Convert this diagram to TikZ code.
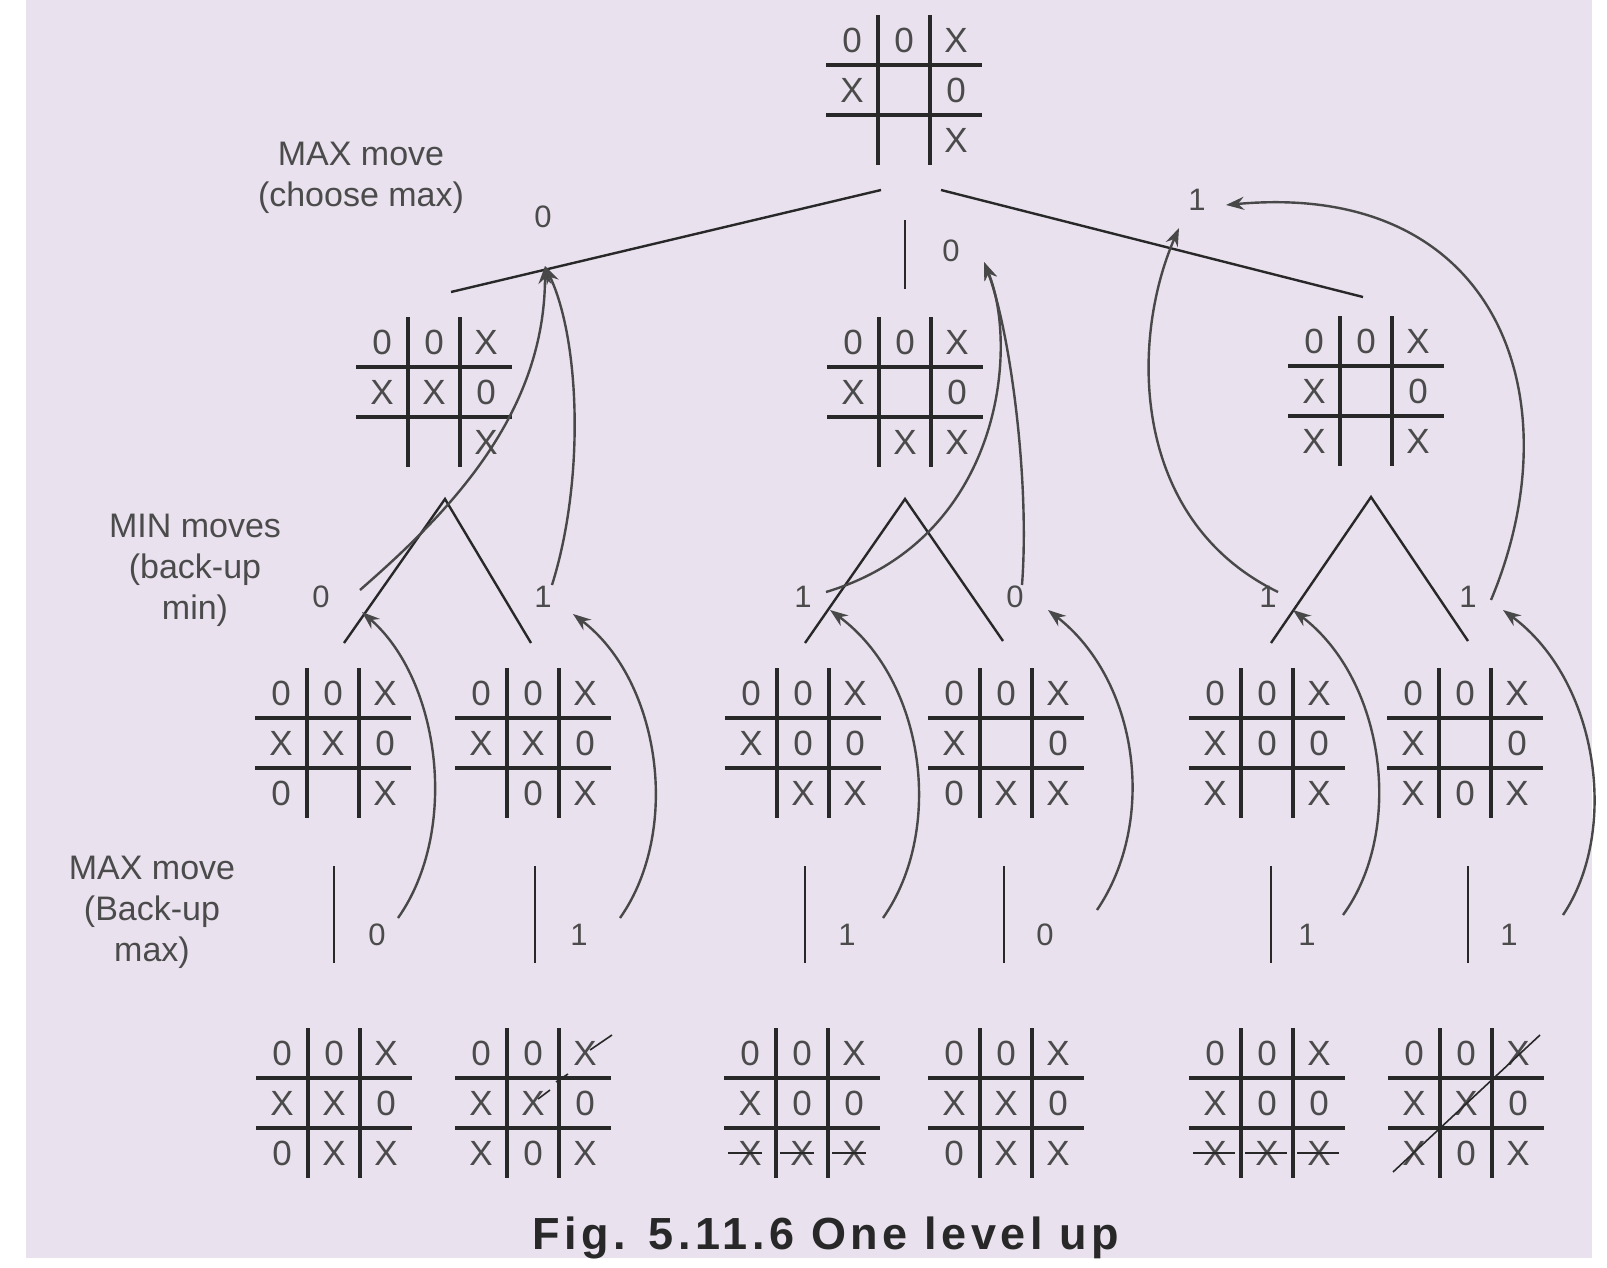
\documentclass[tikz,border=0pt]{standalone}
\usepackage{fontspec}
\setmainfont{Liberation Sans}
\usetikzlibrary{arrows.meta}
\definecolor{bgpaper}{RGB}{233,225,238}
\definecolor{ink}{RGB}{40,40,40}
\definecolor{symcol}{RGB}{75,75,75}
\def\emptycell{n}
\tikzset{
  gridline/.style={draw=ink, line width=3.2pt},
  cellsym/.style={text=symcol, font=\fontsize{35}{40}\selectfont, inner sep=0pt},
  treeline/.style={draw=ink, line width=2.4pt},
  backarrow/.style={draw=ink!85, line width=2.4pt, -{Stealth[length=18pt,width=13pt]}},
  val/.style={text=symcol, font=\fontsize{31}{34}\selectfont, inner sep=1pt},
  lbl/.style={text=symcol, align=center, font=\fontsize{34}{41}\selectfont},
  captionstyle/.style={text=ink, font=\bfseries\fontsize{45}{50}\selectfont\addfontfeature{LetterSpace=10}},
  strike/.style={draw=ink, line width=1.6pt},
}
\newcommand\tttboard[3]{%
  \coordinate (#1) at (#2);
  \begin{scope}[shift={(#2)}]
    \draw[gridline] (-26,-75) -- (-26,75) (26,-75) -- (26,75) (-78,-25) -- (78,-25) (-78,25) -- (78,25);
    \foreach \s [count=\i from 0] in {#3} {
      \pgfmathtruncatemacro\col{mod(\i,3)-1}
      \pgfmathtruncatemacro\row{int(\i/3)-1}
      \node[cellsym] (#1-\i) at (\col*52,\row*50) {\ifx\s\emptycell\else\s\fi};
    }
  \end{scope}}
\begin{document}
\begin{tikzpicture}[x=1pt,y=-1pt]
\useasboundingbox (0,0) rectangle (1607,1268);
\fill[white] (0,0) rectangle (1607,1268);
\fill[bgpaper] (26,0) rectangle (1592,1258);

% boards
\tttboard{b0}{904,90}{0,0,X,X,n,0,n,n,X}
\tttboard{b1a}{434,392}{0,0,X,X,X,0,n,n,X}
\tttboard{b1b}{905,392}{0,0,X,X,n,0,n,X,X}
\tttboard{b1c}{1366,391}{0,0,X,X,n,0,X,n,X}
\tttboard{b2a}{333,743}{0,0,X,X,X,0,0,n,X}
\tttboard{b2b}{533,743}{0,0,X,X,X,0,n,0,X}
\tttboard{b2c}{803,743}{0,0,X,X,0,0,n,X,X}
\tttboard{b2d}{1006,743}{0,0,X,X,n,0,0,X,X}
\tttboard{b2e}{1267,743}{0,0,X,X,0,0,X,n,X}
\tttboard{b2f}{1465,743}{0,0,X,X,n,0,X,0,X}
\tttboard{b3a}{334,1103}{0,0,X,X,X,0,0,X,X}
\tttboard{b3b}{533,1103}{0,0,X,X,X,0,X,0,X}
\tttboard{b3c}{802,1103}{0,0,X,X,0,0,X,X,X}
\tttboard{b3d}{1006,1103}{0,0,X,X,X,0,0,X,X}
\tttboard{b3e}{1267,1103}{0,0,X,X,0,0,X,X,X}
\tttboard{b3f}{1466,1103}{0,0,X,X,X,0,X,0,X}

% win strikes
\foreach \c in {750,802,854} \draw[strike] (\c-22,1153) -- (\c+12,1153);
\foreach \c in {1215,1267,1319} \draw[strike] (\c-22,1153) -- (\c+20,1153);
\draw[strike] (1393,1172) -- (1540,1035);
\draw[strike] (590,1050) -- (612,1035);
\draw[strike] (556,1082) -- (568,1074);
\draw[strike] (538,1099) -- (550,1090);

% labels
\node[lbl] (labTop) at (361,178) {MAX move\\(choose max)};
\node[lbl] (labMin) at (195,570) {MIN moves\\(back-up\\min)};
\node[lbl] (labMax) at (152,912) {MAX move\\(Back-up\\max)};
\node[captionstyle] (cap) at (826,1238) {Fig. 5.11.6 One level up};

% values
\node[val] (v1a) at (543,217) {0};
\node[val] (v1b) at (951,251) {0};
\node[val] (v1c) at (1197,200) {1};
\node[val] (v2a) at (321,597) {0};
\node[val] (v2b) at (543,597) {1};
\node[val] (v2c) at (803,597) {1};
\node[val] (v2d) at (1015,597) {0};
\node[val] (v2e) at (1268,597) {1};
\node[val] (v2f) at (1468,597) {1};
\node[val] (v3a) at (377,935) {0};
\node[val] (v3b) at (579,935) {1};
\node[val] (v3c) at (847,935) {1};
\node[val] (v3d) at (1045,935) {0};
\node[val] (v3e) at (1307,935) {1};
\node[val] (v3f) at (1509,935) {1};

% tree line end points
\coordinate (r0L) at (881,190);  \coordinate (r1a) at (451,292);
\coordinate (r0M) at (905,220);  \coordinate (r1b) at (905,289);
\coordinate (r0R) at (941,190);  \coordinate (r1c) at (1363,297);
\coordinate (apA) at (445,499); \coordinate (fA1) at (344,643); \coordinate (fA2) at (531,643);
\coordinate (apB) at (905,499); \coordinate (fB1) at (805,643); \coordinate (fB2) at (1003,641);
\coordinate (apC) at (1371,497); \coordinate (fC1) at (1271,643); \coordinate (fC2) at (1468,641);

\draw[treeline] (r0L) -- (r1a);
\draw[treeline] (r0M) -- (r1b);
\draw[treeline] (r0R) -- (r1c);
\draw[treeline] (fA1) -- (apA) -- (fA2);
\draw[treeline] (fB1) -- (apB) -- (fB2);
\draw[treeline] (fC1) -- (apC) -- (fC2);
\foreach \x/\n in {334/a,535/b,805/c,1004/d,1271/e,1468/f}{
  \coordinate (s2\n) at (\x,866); \coordinate (s3\n) at (\x,963);
  \draw[treeline] (s2\n) -- (s3\n);
}

% back-up arrows: level 3 -> level 2
\coordinate (u3a) at (398,918); \coordinate (t2a) at (362,612);
\coordinate (u3b) at (620,918); \coordinate (t2b) at (573,614);
\coordinate (u3c) at (883,918); \coordinate (t2c) at (830,610);
\coordinate (u3d) at (1097,910); \coordinate (t2d) at (1048,610);
\coordinate (u3e) at (1343,915); \coordinate (t2e) at (1293,610);
\coordinate (u3f) at (1563,915); \coordinate (t2f) at (1503,610);
\draw[backarrow] (u3a) .. controls (460,830) and (440,680) .. (t2a);
\draw[backarrow] (u3b) .. controls (682,830) and (660,680) .. (t2b);
\draw[backarrow] (u3c) .. controls (945,830) and (925,680) .. (t2c);
\draw[backarrow] (u3d) .. controls (1158,820) and (1138,680) .. (t2d);
\draw[backarrow] (u3e) .. controls (1405,830) and (1385,680) .. (t2e);
\draw[backarrow] (u3f) .. controls (1620,830) and (1598,680) .. (t2f);

% back-up arrows: level 2 -> level 1
\coordinate (u2a) at (360,590); \coordinate (u2b) at (552,585);
\coordinate (u2c) at (826,592); \coordinate (u2d) at (1022,585);
\coordinate (u2e) at (1278,592); \coordinate (u2f) at (1491,600);
\coordinate (t1a) at (545,266); \coordinate (t1b) at (984,262);
\coordinate (t1c) at (1179,228); \coordinate (t1d) at (1226,205);
\draw[backarrow] (u2a) .. controls (440,520) and (545,420) .. (t1a);
\draw[backarrow] (u2b) .. controls (585,480) and (580,340) .. (t1a);
\draw[backarrow] (u2c) .. controls (1000,540) and (1020,350) .. (t1b);
\draw[backarrow] (u2d) .. controls (1030,480) and (1010,330) .. (t1b);
\draw[backarrow] (u2e) .. controls (1130,520) and (1130,340) .. (t1c);
\draw[backarrow] (u2f) .. controls (1575,400) and (1500,180) .. (t1d);
\end{tikzpicture}
\end{document}
